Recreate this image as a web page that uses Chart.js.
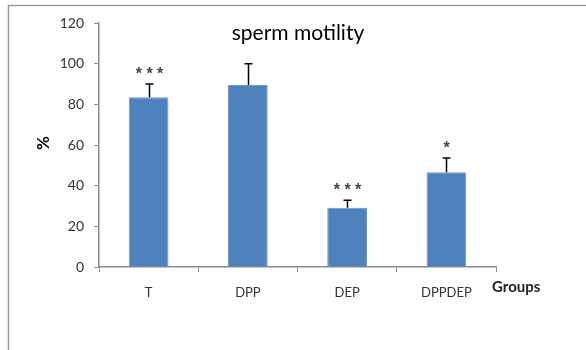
<!DOCTYPE html>
<html>
<head>
<meta charset="utf-8">
<script src="https://cdn.jsdelivr.net/npm/chart.js@4"></script>
<style>
  html, body { margin: 0; padding: 0; background: #fff; }
  #wrap { width: 586px; height: 350px; }
</style>
</head>
<body>
<div id="wrap"><canvas id="chart" width="586" height="350"></canvas></div>
<script>
const groups = ['T', 'DPP', 'DEP', 'DPPDEP'];
const motility = [83.5, 89.5, 29.2, 46.6];
const errors = [6.5, 10.5, 3.6, 7.0];
const marks = ['***', '', '***', '*'];
const yTicks = [0, 20, 40, 60, 80, 100, 120];

const FONT = 'Lato, "Liberation Sans", sans-serif';
const TEXT = '#333333';
const AXIS = '#8a8a8a';

// error bars, stars, titles and frame
const extras = {
  id: 'extras',
  afterDatasetsDraw(chart) {
    const { ctx, scales: { x, y } } = chart;
    ctx.save();
    ctx.strokeStyle = '#000';
    ctx.lineWidth = 1.5;
    ctx.fillStyle = '#444';
    ctx.font = 'bold 16px "Liberation Sans", sans-serif';
    ctx.textAlign = 'center';
    ctx.textBaseline = 'alphabetic';
    groups.forEach((g, i) => {
      const cx = Math.round(x.getPixelForValue(i)) + 0.5;
      const top = y.getPixelForValue(motility[i]);
      const errTop = y.getPixelForValue(motility[i] + errors[i]);
      ctx.beginPath();
      ctx.moveTo(cx, top);
      ctx.lineTo(cx, errTop);
      ctx.moveTo(cx - 4, errTop);
      ctx.lineTo(cx + 4, errTop);
      ctx.stroke();
      if (marks[i]) {
        ctx.fillText(marks[i].split('').join(' '), cx, errTop - 5);
      }
    });
    ctx.restore();
  },
  afterDraw(chart) {
    const { ctx, chartArea } = chart;
    ctx.save();
    // outer frame
    ctx.strokeStyle = '#9a9a9a';
    ctx.lineWidth = 1.5;
    ctx.beginPath();
    ctx.moveTo(8.5, 350);
    ctx.lineTo(8.5, 5.5);
    ctx.lineTo(586, 5.5);
    ctx.stroke();
    // title
    ctx.fillStyle = '#000';
    ctx.textAlign = 'center';
    ctx.textBaseline = 'middle';
    ctx.font = '21px ' + FONT;
    ctx.fillText('sperm motility', 298, 33);
    // y title
    ctx.font = 'bold 17px ' + FONT;
    ctx.translate(44, 143);
    ctx.rotate(-Math.PI / 2);
    ctx.fillText('%', 0, 0);
    ctx.setTransform(1, 0, 0, 1, 0, 0);
    // x title
    ctx.fillStyle = '#222';
    ctx.font = 'bold 15px ' + FONT;
    ctx.textAlign = 'left';
    ctx.fillText('Groups', chartArea.right - 4, 287);
    ctx.restore();
  }
};

new Chart(document.getElementById('chart'), {
  type: 'bar',
  data: {
    labels: groups,
    datasets: [{
      data: motility,
      backgroundColor: '#4f81bd',
      borderColor: '#6a95c9',
      borderWidth: 1,
      barPercentage: 0.4,
      categoryPercentage: 1.0
    }]
  },
  options: {
    responsive: false,
    animation: false,
    layout: { padding: { left: 10, right: 90, top: 23, bottom: 0 } },
    plugins: { legend: { display: false }, tooltip: { enabled: false } },
    scales: {
      x: {
        afterFit: s => { s.height = 83; },
        grid: { offset: true, drawOnChartArea: false, color: AXIS, tickLength: 5, lineWidth: 1 },
        border: { color: AXIS, width: 1.5 },
        ticks: { color: TEXT, font: { family: FONT, size: 13 }, padding: 13, maxRotation: 0 }
      },
      y: {
        min: 0,
        max: 120,
        afterFit: s => { s.width = 89; },
        afterBuildTicks: s => { s.ticks = yTicks.map(v => ({ value: v })); },
        grid: { drawOnChartArea: false, color: AXIS, tickLength: 5, lineWidth: 1 },
        border: { color: AXIS, width: 1.5 },
        ticks: { color: TEXT, font: { family: FONT, size: 14 }, padding: 10 }
      }
    }
  },
  plugins: [extras]
});
</script>
</body>
</html>
